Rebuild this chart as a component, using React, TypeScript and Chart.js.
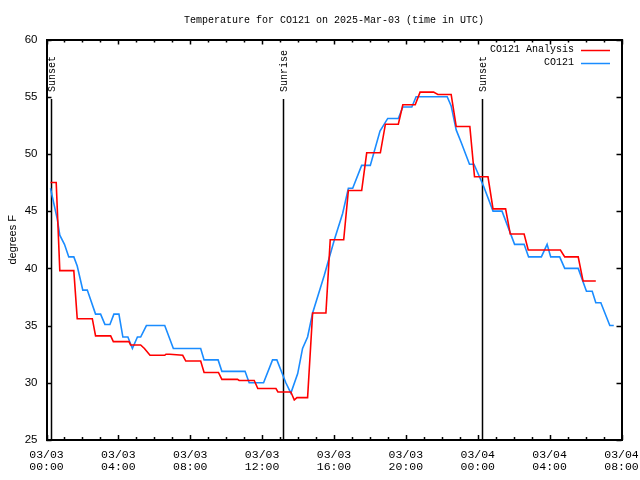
import { useEffect, useRef } from "react";
import { Chart, registerables } from "chart.js";

Chart.register(...registerables);

const TITLE = "Temperature for CO121 on 2025-Mar-03 (time in UTC)";
const Y_TITLE = "degrees F";
const X_TICK_DATES = ["03/03", "03/03", "03/03", "03/03", "03/03", "03/03", "03/04", "03/04", "03/04"];
const X_TICK_TIMES = ["00:00", "04:00", "08:00", "12:00", "16:00", "20:00", "00:00", "04:00", "08:00"];
const Y_MIN = 25;
const Y_MAX = 60;
const Y_STEP = 5;
const X_MAX_HOURS = 32;
const X_MAJOR_HOURS = 4;
const SERIES_NAMES = ["CO121 Analysis", "CO121"];
const SERIES_COLORS = ["#ff0000", "#1a8cff"];

// hours since 03/03 00:00 UTC
const analysisHours = [
  0.22, 0.54, 0.74, 1.52, 1.71, 2.55, 2.73, 3.57, 3.72, 4.59, 4.68, 5.24, 5.45, 5.76, 6.58, 6.65, 6.86, 7.58,
  7.75, 8.58, 8.77, 9.57, 9.76, 10.63, 10.72, 11.56, 11.76, 12.77, 12.88, 13.6, 13.79, 13.94, 14.53, 14.81,
  15.55, 15.79, 16.54, 16.8, 17.54, 17.82, 18.58, 18.86, 19.58, 19.83, 20.52, 20.79, 21.54, 21.78, 22.52, 22.8,
  23.56, 23.82, 24.57, 24.85, 25.55, 25.81, 26.58, 26.81, 28.6, 28.84, 29.59, 29.86, 30.57,
];
const analysisTemps = [
  47.5, 47.5, 39.8, 39.8, 35.6, 35.6, 34.1, 34.1, 33.6, 33.6, 33.3, 33.3, 33.0, 32.4, 32.4, 32.5, 32.5, 32.4,
  31.9, 31.9, 30.9, 30.9, 30.3, 30.3, 30.2, 30.2, 29.5, 29.5, 29.2, 29.2, 28.5, 28.7, 28.7, 36.1,
  36.1, 42.5, 42.5, 46.8, 46.8, 50.1, 50.1, 52.6, 52.6, 54.3, 54.3, 55.4, 55.4, 55.2, 55.2, 52.4,
  52.4, 48.0, 48.0, 45.2, 45.2, 43.0, 43.0, 41.6, 41.6, 41.0, 41.0, 38.9, 38.9,
];

const observedHours = [
  0.22, 0.6, 0.74, 1.0, 1.24, 1.52, 1.71, 2.02, 2.27, 2.73, 3.01, 3.25, 3.53, 3.75, 4.03, 4.25, 4.53, 4.78,
  5.06, 5.24, 5.56, 6.58, 7.06, 8.58, 8.77, 9.55, 9.76, 11.05, 11.28, 12.08, 12.58, 12.82, 13.32, 13.6,
  13.98, 14.25, 14.53, 14.81, 15.46, 16.02, 16.48, 16.8, 17.04, 17.54, 18.02, 18.56, 18.99, 19.58, 19.83,
  20.33, 20.57, 22.3, 22.52, 22.8, 23.08, 23.54, 23.79, 24.32, 24.85, 25.35, 26.05, 26.58, 26.83, 27.54,
  27.86, 28.06, 28.56, 28.84, 29.59, 30.05, 30.37, 30.57, 30.85, 31.35, 31.57,
];
const observedTemps = [
  47.0, 44.3, 42.9, 42.1, 41.0, 41.0, 40.2, 38.1, 38.1, 36.0, 36.0, 35.1, 35.1, 36.0, 36.0, 34.0, 34.0, 33.0,
  34.0, 34.0, 35.0, 35.0, 33.0, 33.0, 32.0, 32.0, 31.0, 31.0, 30.0, 30.0, 32.0, 32.0, 30.0, 29.1,
  30.8, 33.0, 34.0, 36.1, 39.4, 42.5, 44.8, 47.0, 47.0, 49.0, 49.0, 52.0, 53.1, 53.1, 54.1,
  54.1, 55.0, 55.0, 54.2, 52.1, 51.0, 49.1, 49.1, 47.2, 45.0, 45.0, 42.1, 42.1, 41.0, 41.0,
  42.1, 41.0, 41.0, 40.0, 40.0, 38.0, 38.0, 37.0, 37.0, 35.0, 35.0,
];

const eventNames = ["Sunset", "Sunrise", "Sunset"];
const eventHours = [0.23, 13.18, 24.25];

const MONO = "'Liberation Mono', 'DejaVu Sans Mono', monospace";
const SANS = "'Liberation Sans', 'DejaVu Sans', sans-serif";

const gnuplotLook = {
  id: "gnuplotLook",
  beforeDatasetsDraw(chart: any) {
    const { ctx, chartArea: a, scales } = chart;
    const x = scales.x;
    ctx.save();
    ctx.strokeStyle = "#000";
    ctx.fillStyle = "#000";
    ctx.lineWidth = 1.5;
    eventHours.forEach((h, i) => {
      const px = Math.round(x.getPixelForValue(h)) + 0.5;
      ctx.beginPath();
      ctx.moveTo(px, a.top + 59.5);
      ctx.lineTo(px, a.bottom);
      ctx.stroke();
      ctx.save();
      ctx.translate(px + 0.5, a.top + 52.5);
      ctx.rotate(-Math.PI / 2);
      ctx.font = `10px ${MONO}`;
      ctx.textAlign = "left";
      ctx.textBaseline = "middle";
      ctx.fillText(eventNames[i], 0, 0);
      ctx.restore();
    });
    ctx.restore();
  },
  afterDraw(chart: any) {
    const { ctx, chartArea: a, scales } = chart;
    const x = scales.x;
    const y = scales.y;
    ctx.save();
    ctx.strokeStyle = "#000";
    ctx.lineWidth = 1.5;
    // ticks (inward, mirrored)
    ctx.beginPath();
    for (let h = 0; h <= X_MAX_HOURS; h++) {
      const px = Math.round(x.getPixelForValue(h)) + 0.5;
      const len = h % X_MAJOR_HOURS === 0 ? 5 : 3;
      ctx.moveTo(px, a.bottom);
      ctx.lineTo(px, a.bottom - len);
      ctx.moveTo(px, a.top);
      ctx.lineTo(px, a.top + len);
    }
    for (let v = Y_MIN; v <= Y_MAX; v += Y_STEP) {
      const py = Math.round(y.getPixelForValue(v)) + 0.5;
      ctx.moveTo(a.left, py);
      ctx.lineTo(a.left + 5, py);
      ctx.moveTo(a.right, py);
      ctx.lineTo(a.right - 5, py);
    }
    ctx.stroke();
    // frame
    ctx.lineWidth = 2;
    ctx.strokeRect(Math.round(a.left), Math.round(a.top), Math.round(a.right) - Math.round(a.left), Math.round(a.bottom) - Math.round(a.top));
    // legend
    ctx.font = `10px ${MONO}`;
    ctx.fillStyle = "#000";
    ctx.textAlign = "right";
    ctx.textBaseline = "middle";
    SERIES_NAMES.forEach((name, i) => {
      const ly = a.top + 10 + i * 13;
      ctx.fillText(name, a.right - 47.5, ly);
      ctx.strokeStyle = SERIES_COLORS[i];
      ctx.lineWidth = 1.5;
      ctx.beginPath();
      ctx.moveTo(a.right - 40.5, Math.round(ly) + 0.5);
      ctx.lineTo(a.right - 11.5, Math.round(ly) + 0.5);
      ctx.stroke();
    });
    ctx.restore();
  },
};

function toPoints(xs: number[], ys: number[]) {
  return xs.map((h, i) => ({ x: h, y: ys[i] }));
}

export default function App() {
  const canvasRef = useRef<HTMLCanvasElement | null>(null);

  useEffect(() => {
    const canvas = canvasRef.current;
    if (!canvas) return;
    const chart = new Chart(canvas, {
      type: "line",
      data: {
        datasets: [
          {
            label: SERIES_NAMES[0],
            data: toPoints(analysisHours, analysisTemps),
            borderColor: SERIES_COLORS[0],
            backgroundColor: SERIES_COLORS[0],
            borderWidth: 1.6,
            pointRadius: 0,
            tension: 0,
          },
          {
            label: SERIES_NAMES[1],
            data: toPoints(observedHours, observedTemps),
            borderColor: SERIES_COLORS[1],
            backgroundColor: SERIES_COLORS[1],
            borderWidth: 1.6,
            pointRadius: 0,
            tension: 0,
          },
        ],
      },
      options: {
        animation: false,
        responsive: false,
        devicePixelRatio: 1,
        layout: { padding: { top: 0, left: 0, right: 18.5, bottom: 0 } },
        plugins: {
          legend: { display: false },
          tooltip: { enabled: false },
          title: {
            display: true,
            text: TITLE,
            fullSize: false,
            color: "#000",
            font: { family: MONO, size: 10, weight: "normal", lineHeight: 1.2 },
            padding: { top: 14, bottom: 13.5 },
          },
        },
        scales: {
          x: {
            type: "linear",
            min: 0,
            max: X_MAX_HOURS,
            grid: { display: false, drawTicks: false },
            border: { display: false },
            afterFit: (s: any) => {
              s.height = 40;
              s.paddingLeft = 0;
              s.paddingRight = 0;
            },
            ticks: {
              stepSize: X_MAJOR_HOURS,
              autoSkip: false,
              maxRotation: 0,
              padding: 9,
              color: "#000",
              font: { family: MONO, size: 11.5, lineHeight: 1.05 },
              callback: (v: any) => {
                const i = Math.round(Number(v) / X_MAJOR_HOURS);
                return [X_TICK_DATES[i], X_TICK_TIMES[i]];
              },
            },
          },
          y: {
            min: Y_MIN,
            max: Y_MAX,
            grid: { display: false, drawTicks: false },
            border: { display: false },
            afterFit: (s: any) => {
              s.width = 46.5;
              s.paddingTop = 0;
              s.paddingBottom = 0;
            },
            title: {
              display: true,
              text: Y_TITLE,
              color: "#000",
              font: { family: SANS, size: 11 },
              padding: { top: 6, bottom: 0 },
            },
            ticks: {
              stepSize: Y_STEP,
              padding: 9,
              color: "#000",
              font: { family: SANS, size: 11.5 },
            },
          },
        },
      },
      plugins: [gnuplotLook],
    } as any);
    return () => chart.destroy();
  }, []);

  return (
    <div style={{ position: "absolute", left: 0, top: 0, width: 640, height: 480, background: "#fff" }}>
      <canvas ref={canvasRef} width={640} height={480} style={{ display: "block" }} />
    </div>
  );
}
